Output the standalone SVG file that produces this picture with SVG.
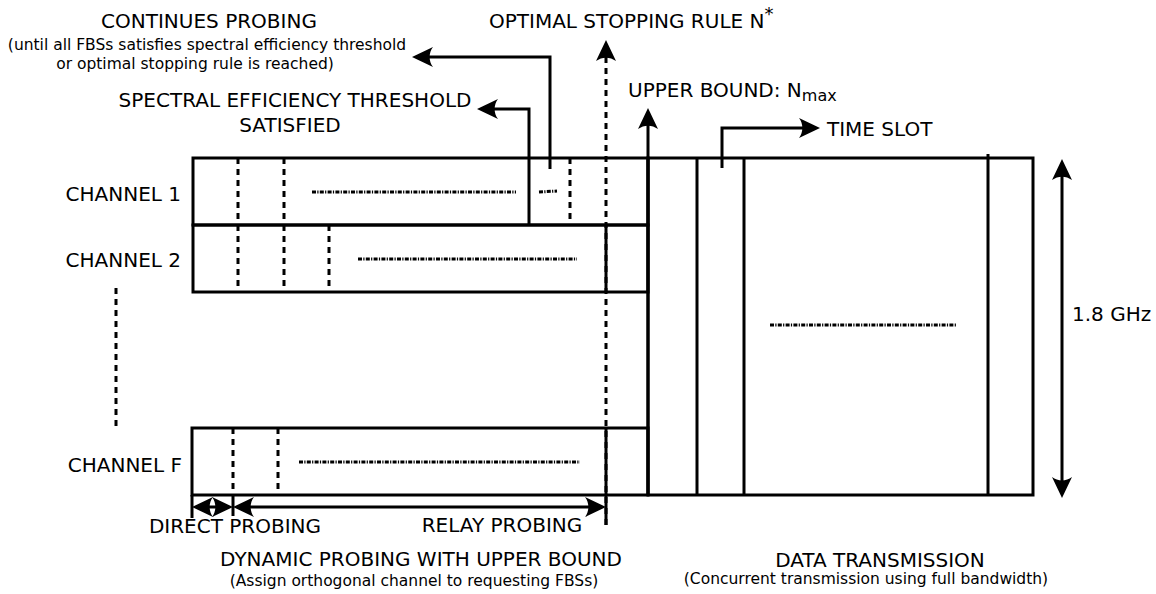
<svg xmlns="http://www.w3.org/2000/svg" width="1156" height="594" viewBox="0 0 1156 594">
  <defs>
    <style>
      .s { stroke: #000; stroke-width: 3; fill: none; }
      .d { stroke: #000; stroke-width: 3; stroke-dasharray: 6 5; fill: none; }
      .dd { stroke: #000; stroke-width: 3; stroke-dasharray: 4 1.3 1.2 1.3; fill: none; }
      .a { stroke: #000; stroke-width: 3; fill: none; marker-end: url(#head); }
      .a2 { stroke: #000; stroke-width: 3; fill: none; marker-start: url(#head); marker-end: url(#head); }
      text { font-family: "DejaVu Sans", "Liberation Sans", sans-serif; fill: #000; }
      .big { font-size: 20px; }
      .small { font-size: 15.5px; }
    </style>
    <!-- filled arrowhead with concave back, tip slightly ahead of the line end -->
    <marker id="head" markerUnits="userSpaceOnUse" markerWidth="26" markerHeight="24" viewBox="-22 -12 26 24" refX="0" refY="0" orient="auto-start-reverse">
      <path d="M4,0 L-17,-10 C-12.5,-4 -12.5,4 -17,10 Z" fill="#000"/>
    </marker>
  </defs>

  <rect width="1156" height="594" fill="#fff"/>

  <!-- channel labels -->
  <g id="label-channel1"><text class="big" x="181" y="201" text-anchor="end">CHANNEL 1</text></g>
  <g id="label-channel2"><text class="big" x="181" y="267" text-anchor="end">CHANNEL 2</text></g>
  <g id="label-channelF"><text class="big" x="182" y="472" text-anchor="end">CHANNEL F</text></g>
  <g id="ellipsis"><line class="d" x1="116" y1="288" x2="116" y2="431"/></g>

  <!-- channel 1 probing row -->
  <g id="channel1">
    <rect class="s" x="193" y="158" width="455" height="67"/>
    <line class="d" x1="238" y1="158" x2="238" y2="225"/>
    <line class="d" x1="284" y1="158" x2="284" y2="225"/>
    <line class="dd" x1="312" y1="192" x2="516" y2="192"/>
    <line class="dd" x1="539" y1="192" x2="557" y2="191"/>
    <line class="d" x1="570" y1="158" x2="570" y2="225"/>
  </g>

  <!-- channel 2 probing row -->
  <g id="channel2">
    <rect class="s" x="193" y="225" width="455" height="67"/>
    <line class="d" x1="238" y1="225" x2="238" y2="292"/>
    <line class="d" x1="284" y1="225" x2="284" y2="292"/>
    <line class="d" x1="329" y1="225" x2="329" y2="292"/>
    <line class="dd" x1="358" y1="259" x2="577" y2="259"/>
    <line class="s" x1="606" y1="225" x2="606" y2="292"/>
  </g>

  <!-- channel F probing row -->
  <g id="channelF">
    <rect class="s" x="192" y="428" width="456" height="67"/>
    <line class="d" x1="233" y1="428" x2="233" y2="495"/>
    <line class="d" x1="278" y1="428" x2="278" y2="495"/>
    <line class="dd" x1="299" y1="462" x2="580" y2="462"/>
    <line class="s" x1="606" y1="428" x2="606" y2="525"/>
    <line class="s" x1="192" y1="495" x2="192" y2="518"/>
    <line class="s" x1="233" y1="495" x2="233" y2="516"/>
  </g>

  <!-- data transmission block with time slots -->
  <g id="data-block">
    <rect class="s" x="648" y="158" width="385" height="337"/>
    <line class="s" x1="697" y1="158" x2="697" y2="495"/>
    <line class="s" x1="744" y1="158" x2="744" y2="495"/>
    <line class="s" x1="988" y1="154" x2="988" y2="495"/>
    <line class="dd" x1="770" y1="325" x2="956" y2="325"/>
  </g>

  <!-- connectors and dimension arrows -->
  <g id="connectors">
    <path class="a" d="M529,225 V109 H481"/>
    <path class="a" d="M550,169 V57 H416"/>
    <line class="d" x1="606" y1="525" x2="606" y2="44" marker-end="url(#head)"/>
    <path class="a" d="M648,495 V112"/>
    <path class="a" d="M722,168 V128 H816"/>
    <path class="a2" d="M1062,163 V494"/>
    <path class="a2" d="M196,507 H229"/>
    <path class="a2" d="M237,507 H602"/>
  </g>

  <!-- annotations -->
  <g id="label-continues">
    <text class="big" x="209" y="28" text-anchor="middle">CONTINUES PROBING</text>
    <text class="small" x="207" y="50" text-anchor="middle">(until all FBSs satisfies spectral efficiency threshold</text>
    <text class="small" x="195" y="69" text-anchor="middle">or optimal stopping rule is reached)</text>
  </g>
  <g id="label-threshold">
    <text class="big" x="295" y="107" text-anchor="middle">SPECTRAL EFFICIENCY THRESHOLD</text>
    <text class="big" x="290" y="132" text-anchor="middle">SATISFIED</text>
  </g>
  <g id="label-optimal">
    <text class="big" x="489" y="28">OPTIMAL STOPPING RULE N<tspan dy="-8" font-size="18">*</tspan></text>
  </g>
  <g id="label-upper">
    <text class="big" x="628" y="97">UPPER BOUND: N<tspan dy="4" font-size="16">max</tspan></text>
  </g>
  <g id="label-timeslot"><text class="big" x="827" y="136">TIME SLOT</text></g>
  <g id="label-bandwidth"><text class="big" x="1072" y="321">1.8 GHz</text></g>
  <g id="label-direct"><text class="big" x="235" y="533" text-anchor="middle">DIRECT PROBING</text></g>
  <g id="label-relay"><text class="big" x="502" y="532" text-anchor="middle">RELAY PROBING</text></g>
  <g id="label-dynamic">
    <text class="big" x="421" y="566" text-anchor="middle">DYNAMIC PROBING WITH UPPER BOUND</text>
    <text class="small" x="414" y="586" text-anchor="middle">(Assign orthogonal channel to requesting FBSs)</text>
  </g>
  <g id="label-data">
    <text class="big" x="880" y="567" text-anchor="middle">DATA TRANSMISSION</text>
    <text class="small" x="866" y="584" text-anchor="middle" font-size="14.2">(Concurrent transmission using full bandwidth)</text>
  </g>
</svg>
